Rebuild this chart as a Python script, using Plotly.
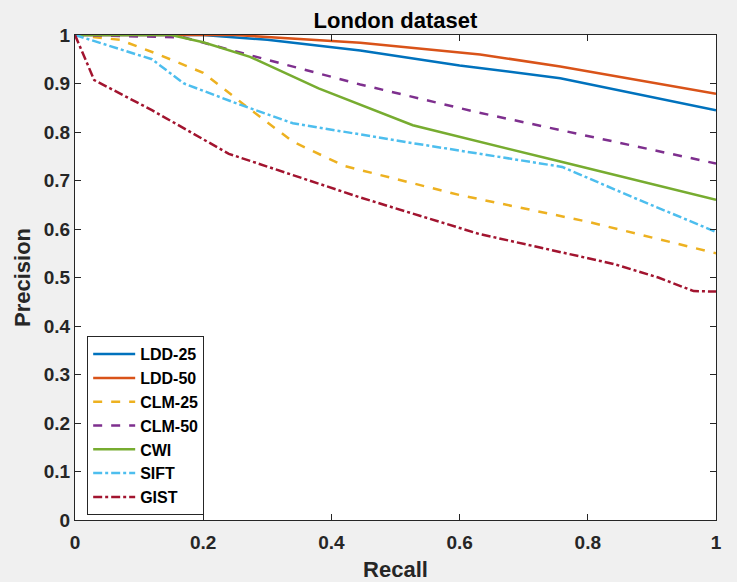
import plotly.graph_objects as go

# recall / precision points
ldd25_r = [0, 0.2, 0.3, 0.445, 0.6, 0.757, 1.0]
ldd25_p = [1.0, 1.0, 0.99, 0.968, 0.937, 0.911, 0.845]

ldd50_r = [0, 0.25, 0.445, 0.632, 0.757, 1.0]
ldd50_p = [1.0, 1.0, 0.984, 0.96, 0.935, 0.879]

clm25_r = [0, 0.07, 0.13, 0.2, 0.27, 0.34, 0.42, 0.6, 0.8, 1.0]
clm25_p = [1.0, 0.99, 0.96, 0.922, 0.85, 0.78, 0.73, 0.67, 0.615, 0.55]

clm50_r = [0, 0.17, 0.24, 0.445, 0.63, 0.77, 1.0]
clm50_p = [1.0, 0.995, 0.97, 0.898, 0.84, 0.80, 0.735]

cwi_r = [0, 0.15, 0.2, 0.273, 0.38, 0.527, 0.757, 1.0]
cwi_p = [1.0, 1.0, 0.985, 0.955, 0.89, 0.814, 0.739, 0.66]

sift_r = [0, 0.12, 0.17, 0.25, 0.34, 0.527, 0.76, 0.88, 1.0]
sift_p = [1.0, 0.95, 0.9, 0.86, 0.818, 0.777, 0.728, 0.66, 0.594]

gist_r = [0, 0.03, 0.12, 0.24, 0.445, 0.63, 0.84, 0.91, 0.965, 1.0]
gist_p = [1.0, 0.907, 0.845, 0.755, 0.665, 0.59, 0.528, 0.5, 0.472, 0.471]

series = [
    ("LDD-25", ldd25_r, ldd25_p, "#0072BD", "solid"),
    ("LDD-50", ldd50_r, ldd50_p, "#D95319", "solid"),
    ("CLM-25", clm25_r, clm25_p, "#EDB120", "dash"),
    ("CLM-50", clm50_r, clm50_p, "#7E2F8E", "dash"),
    ("CWI", cwi_r, cwi_p, "#77AC30", "solid"),
    ("SIFT", sift_r, sift_p, "#4DBEEE", "dashdot"),
    ("GIST", gist_r, gist_p, "#A2142F", "dashdot"),
]

x_ticks = [0, 0.2, 0.4, 0.6, 0.8, 1]
y_ticks = [0, 0.1, 0.2, 0.3, 0.4, 0.5, 0.6, 0.7, 0.8, 0.9, 1]

FONT = "Liberation Sans, Arial, Helvetica, sans-serif"

fig = go.Figure()
for name, r, p, color, dash in series:
    fig.add_trace(go.Scatter(
        x=r, y=p, mode="lines", name=name,
        line=dict(color=color, width=2.5, dash=dash),
    ))

axis_common = dict(
    showgrid=False, zeroline=False, automargin=False,
    showline=True, linecolor="#262626", linewidth=1, mirror="ticks",
    ticks="inside", ticklen=6, tickcolor="#262626",
    tickfont=dict(family=FONT, size=19, color="#262626", weight="bold"),
)

fig.update_layout(
    width=737, height=582,
    margin=dict(l=75, r=21, t=35, b=62, autoexpand=False),
    paper_bgcolor="#f0f0f0",
    plot_bgcolor="white",
    title=dict(
        text="London dataset", x=(75 + 716) / 2 / 737, xanchor="center",
        y=0.965, yanchor="middle", automargin=False,
        font=dict(family=FONT, size=22, color="black", weight="bold"),
    ),
    xaxis=dict(
        range=[0, 1], tickvals=x_ticks, ticklabelstandoff=5,
        title=dict(text="Recall", standoff=12,
                   font=dict(family=FONT, size=22, color="#262626", weight="bold")),
        **axis_common,
    ),
    yaxis=dict(
        range=[0, 1], tickvals=y_ticks,
        title=dict(text="Precision", standoff=7,
                   font=dict(family=FONT, size=22, color="#262626", weight="bold")),
        **axis_common,
    ),
    legend=dict(
        x=0.019, y=0.379, xanchor="left", yanchor="top",
        bgcolor="white", bordercolor="#262626", borderwidth=1,
        font=dict(family=FONT, size=16, color="black", weight="bold"),
        itemwidth=42, tracegroupgap=0,
    ),
    showlegend=True,
)

fig.write_html("out.html", config={"displayModeBar": False},
               post_script="document.body.style.margin='0';")
